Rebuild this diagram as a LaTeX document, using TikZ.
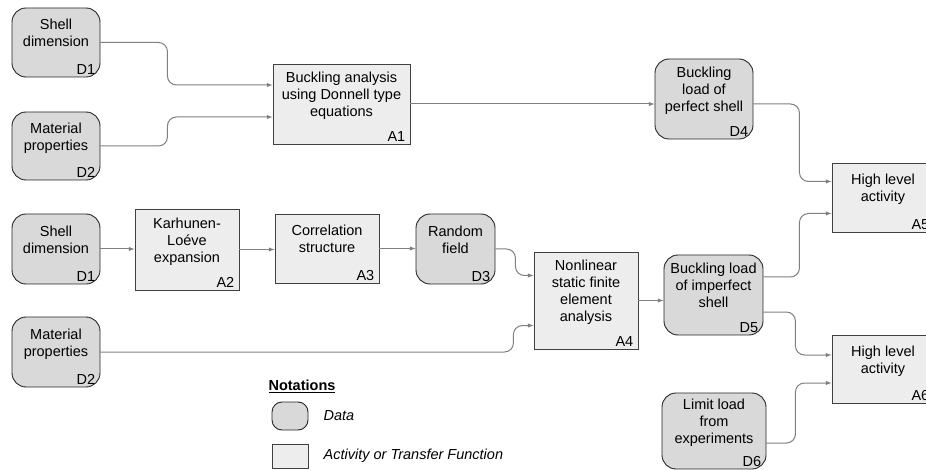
\documentclass[tikz,border=0pt]{standalone}
\usepackage{fontspec}
\setmainfont{Liberation Sans}
\usetikzlibrary{positioning}
\newcommand{\boxfont}{\fontsize{14.5}{17}\selectfont}
\tikzset{
    data/.style={draw=black!85, fill=black!15, line width=0.9pt, rounded corners=14pt,
        align=center, text depth=19pt, font=\boxfont},
    activity/.style={draw=black!75, fill=black!7, line width=0.9pt,
        align=center, text depth=19pt, font=\boxfont},
    idtag/.style={anchor=south east, inner xsep=5pt, inner ysep=2.5pt, font=\boxfont},
    link/.style={draw=black!50, line width=1pt, rounded corners=9pt, -latex},
    legendkey/.style={minimum width=36pt, minimum height=28pt, text depth=0pt},
    legendtext/.style={font=\boxfont\itshape, inner sep=0pt}
}
\begin{document}
\begin{tikzpicture}[x=1pt,y=-1pt]
            \useasboundingbox (0,0) rectangle (926,470);
            % first chain
            \node[data, minimum width=88pt, minimum height=69pt, label={[idtag]south east:D1}] (dim1) at (56,42.5) {Shell\\dimension};
            \node[data, minimum width=88pt, minimum height=68pt, label={[idtag]south east:D2}] (mat1) at (56,146) {Material\\properties};
            \node[activity, minimum width=137pt, minimum height=80pt, label={[idtag]south east:A1}] (buck) at (341.5,104) {Buckling analysis\\using Donnell type\\equations};
            \node[data, minimum width=98pt, minimum height=80pt, label={[idtag]south east:D4}] (perf) at (704,99) {Buckling\\load of\\perfect shell};
            \node[activity, minimum width=102pt, minimum height=69pt, label={[idtag]south east:A5}] (high1) at (883,197.5) {High level\\activity};
            % second chain
            \node[data, minimum width=88pt, minimum height=70pt, label={[idtag]south east:D1}] (dim2) at (56,249) {Shell\\dimension};
            \node[activity, minimum width=104pt, minimum height=81pt, label={[idtag]south east:A2}] (kl) at (187,249.5) {Karhunen-\\Loéve\\expansion};
            \node[activity, minimum width=104pt, minimum height=69pt, label={[idtag]south east:A3}] (corr) at (327,248.5) {Correlation\\structure};
            \node[data, minimum width=79pt, minimum height=70pt, label={[idtag]south east:D3}] (field) at (455.5,249) {Random\\field};
            \node[activity, minimum width=104pt, minimum height=97pt, label={[idtag]south east:A4}] (fem) at (586,300.5) {Nonlinear\\static finite\\element\\analysis};
            \node[data, minimum width=88pt, minimum height=70pt, label={[idtag]south east:D2}] (mat2) at (56,352) {Material\\properties};
            \node[data, minimum width=99pt, minimum height=80pt, label={[idtag]south east:D5}] (imp) at (713.5,295) {Buckling load\\of imperfect\\shell};
            \node[activity, minimum width=102pt, minimum height=68pt, label={[idtag]south east:A6}] (high2) at (883,369) {High level\\activity};
            \node[data, minimum width=104pt, minimum height=76pt, label={[idtag]south east:D6}] (exp) at (714,431) {Limit load\\from\\experiments};
            % connectors
            \draw[link] (dim1.east) -- ++(67,0) |- ([yshift=19pt]buck.west);
            \draw[link] (mat1.east) -- ++(67,0) |- ([yshift=-13pt]buck.west);
            \draw[link] (buck.east) -- (buck.east -| perf.west);
            \draw[link] ([yshift=-5pt]perf.east) -- ++(46,0) |- ([yshift=16pt]high1.west);
            \draw[link] (dim2.east) -- (dim2.east -| kl.west);
            \draw[link] (kl.east) -- (kl.east -| corr.west);
            \draw[link] (corr.east) -- (corr.east -| field.west);
            \draw[link] (field.east) -- ++(20,0) |- ([yshift=25pt]fem.west);
            \draw[link] (mat2.east) -- ++(413,0) |- ([yshift=-25pt]fem.west);
            \draw[link] (fem.east) -- (fem.east -| imp.west);
            \draw[link] ([yshift=18pt]imp.east) -- ++(36,0) |- ([yshift=-16pt]high1.west);
            \draw[link] ([yshift=-17pt]imp.east) -- ++(32,0) |- ([yshift=14pt]high2.west);
            \draw[link] ([yshift=-12pt]exp.east) -- ++(29,0) |- ([yshift=-14pt]high2.west);
            % notations
            \node[font=\boxfont\bfseries] (nothead) at (302,386) {\underline{Notations}};
            \node[data, legendkey, rounded corners=10pt] (keydata) at (290,416) {};
            \node[activity, legendkey, minimum height=24pt] (keyact) at (290,456) {};
            \node[legendtext, right=15pt of keydata] (datatext) {Data};
            \node[legendtext, right=15pt of keyact] (acttext) {Activity or Transfer Function};
        \end{tikzpicture}
\end{document}
